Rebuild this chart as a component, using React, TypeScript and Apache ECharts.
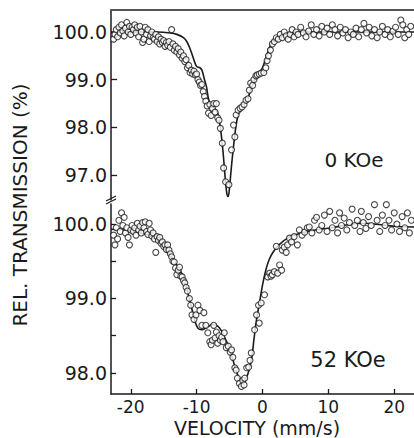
import React, { useEffect, useRef } from "react";
import * as echarts from "echarts";

const FONT = "DejaVu Sans";

// velocity tick labels
const xTicks = [-20, -10, 0, 10, 20];
const upperYLabels = [97, 98, 99, 100];
const lowerYLabels = [98, 99, 100];
const lowerYTicks = [98, 98.5, 99, 99.5, 100];

// 0 kOe: measured points [velocity, transmission]
const upperPoints: number[][] = [
  [-22.6,99.85],[-22.4,99.95],[-22.2,100.05],[-22.0,99.9],[-21.8,100.1],[-21.6,99.98],[-21.4,100.15],[-21.2,100.02],[-21.0,99.92],[-20.8,100.08],[-20.6,100.2],[-20.4,100.0],[-20.2,100.12],[-20.0,99.95],[-19.8,100.1],[-19.6,100.05],[-19.4,100.15],[-19.2,99.98],[-19.0,100.1],[-18.8,99.9],[-18.6,100.12],[-18.4,100.0],[-18.2,99.78],[-18.0,99.85],[-17.8,100.1],[-17.6,99.95],[-17.4,100.05],[-17.2,99.8],[-17.0,99.92],[-16.8,100.0],[-16.6,99.88],[-16.4,99.85],[-16.2,99.95],[-16.0,99.8],[-15.8,99.9],[-15.6,99.75],[-15.4,99.85],[-15.2,99.78],[-15.0,99.82],[-14.8,99.7],[-14.6,99.78],[-14.4,99.72],[-14.2,99.8],[-14.0,99.68],[-13.8,100.05],[-13.6,99.75],[-13.4,99.62],[-13.2,99.7],[-13.0,99.58],[-12.8,99.65],[-12.6,99.52],[-12.4,99.58],[-12.2,99.45],[-12.0,99.5],[-11.8,99.38],[-11.6,99.42],[-11.4,99.25],[-11.2,99.3],[-11.0,99.15],[-10.8,99.2],[-10.6,99.12],[-10.4,99.18],[-10.2,99.1],[-10.0,99.12],[-9.8,99.0],[-9.6,98.95],[-9.4,98.88],[-9.2,98.9],[-9.0,98.75],[-8.8,98.65],[-8.6,98.55],[-8.4,98.45],[-8.2,98.3],[-8.0,98.48],[-7.8,98.25],[-7.6,98.4],[-7.4,98.5],[-7.2,98.32],[-7.0,98.5],[-6.8,98.2],[-6.6,98.15],[-6.4,97.98],[-6.1,97.67],[-5.9,97.15],[-5.6,96.86],[-5.1,96.8],[-4.7,97.53],[-4.4,98.05],[-4.2,97.8],[-4.0,98.26],[-3.7,98.36],[-3.4,98.4],[-3.1,98.43],[-2.8,98.48],[-2.5,98.57],[-2.2,98.6],[-2.0,98.78],[-1.8,98.93],[-1.5,98.88],[-1.3,99.0],[-1.0,99.08],[-0.8,99.1],[-0.5,99.12],[-0.2,99.14],[0.2,99.15],[0.5,99.25],[0.7,99.4],[0.9,99.5],[1.2,99.62],[1.5,99.75],[1.8,99.8],[2.1,99.88],[2.4,99.85],[2.7,99.95],[3.0,99.88],[3.3,100.0],[3.6,99.92],[3.9,99.85],[4.2,99.95],[4.5,100.05],[4.8,99.9],[5.1,100.0],[5.4,99.95],[5.8,100.1],[6.2,99.98],[6.6,99.9],[7.0,100.02],[7.4,100.15],[7.8,99.95],[8.2,100.05],[8.6,99.92],[9.0,100.12],[9.4,100.0],[9.8,100.08],[10.2,99.95],[10.6,100.15],[11.0,100.05],[11.4,99.92],[11.8,100.1],[12.2,99.98],[12.6,100.05],[13.0,99.88],[13.4,100.0],[13.8,99.95],[14.2,100.08],[14.6,99.9],[15.0,100.05],[15.4,100.18],[15.8,99.98],[16.2,100.1],[16.6,99.92],[17.0,100.05],[17.4,99.88],[17.8,100.0],[18.2,100.12],[18.6,99.95],[19.0,100.05],[19.4,99.9],[19.8,100.02],[20.2,100.1],[20.6,99.95],[21.0,100.25],[21.3,100.15],[21.6,99.88],[21.9,100.05],[22.2,99.95],[22.5,100.12]
];

// 0 kOe: fitted curve
const upperFit: number[][] = [
  [-23,100.0],[-20,100.0],[-16,100.0],[-14,99.98],[-13,99.95],[-12,99.88],[-11.5,99.8],[-11,99.65],[-10.5,99.45],[-10,99.28],[-9.5,99.25],[-9.2,99.2],[-8.8,99.0],[-8.5,98.85],[-8.2,98.6],[-7.8,98.45],[-7.3,98.4],[-6.8,98.3],[-6.4,98.0],[-6.0,97.5],[-5.7,97.0],[-5.4,96.6],[-5.2,96.55],[-5.0,96.75],[-4.7,97.2],[-4.4,97.6],[-4.0,98.05],[-3.6,98.3],[-3.0,98.45],[-2.4,98.55],[-2.0,98.7],[-1.5,98.9],[-1.0,99.05],[-0.5,99.15],[0,99.25],[0.5,99.45],[1.0,99.65],[1.5,99.8],[2.5,99.92],[3.5,99.97],[5,100.0],[23,100.0]
];

// 52 kOe: measured points
const lowerPoints: number[][] = [
  [-22.6,99.85],[-22.4,99.72],[-22.2,99.95],[-22.0,99.8],[-21.8,100.05],[-21.6,99.9],[-21.4,100.15],[-21.2,99.98],[-21.0,100.09],[-20.8,99.88],[-20.6,99.95],[-20.4,99.82],[-20.2,99.72],[-20.0,99.92],[-19.8,99.98],[-19.6,99.9],[-19.4,99.95],[-19.2,99.85],[-19.0,100.01],[-18.8,99.92],[-18.6,99.97],[-18.4,99.88],[-18.2,100.02],[-18.0,99.95],[-17.8,100.03],[-17.6,99.9],[-17.4,99.86],[-17.2,100.01],[-17.0,99.92],[-16.8,99.84],[-16.6,99.88],[-16.4,99.8],[-16.2,99.62],[-16.0,99.83],[-15.8,99.78],[-15.6,99.82],[-15.4,99.74],[-15.2,99.76],[-15.0,99.7],[-14.8,99.72],[-14.6,99.66],[-14.4,99.72],[-14.2,99.65],[-14.0,99.6],[-13.8,99.56],[-13.6,99.5],[-13.4,99.49],[-13.2,99.41],[-13.0,99.32],[-12.8,99.38],[-12.6,99.42],[-12.4,99.3],[-12.2,99.29],[-12.0,99.24],[-11.8,99.21],[-11.6,99.15],[-11.4,99.1],[-11.1,99.0],[-10.9,98.91],[-10.7,98.78],[-10.4,98.72],[-10.1,98.78],[-9.8,98.91],[-9.5,98.84],[-9.2,98.64],[-8.9,98.81],[-8.6,98.64],[-8.3,98.54],[-8.0,98.42],[-7.8,98.38],[-7.6,98.44],[-7.4,98.64],[-7.2,98.47],[-7.0,98.55],[-6.8,98.4],[-6.6,98.5],[-6.4,98.44],[-6.2,98.48],[-6.0,98.42],[-5.8,98.54],[-5.5,98.34],[-5.2,98.36],[-4.9,98.28],[-4.7,98.31],[-4.5,98.21],[-4.2,98.07],[-4.0,98.04],[-3.8,97.93],[-3.5,97.86],[-3.2,97.82],[-3.0,97.9],[-2.8,97.84],[-2.7,97.93],[-2.4,98.07],[-2.1,98.08],[-1.9,98.17],[-1.7,98.27],[-1.2,98.58],[-0.9,98.78],[-0.6,98.91],[-0.5,98.67],[-0.2,98.94],[0.3,99.05],[0.8,99.29],[1.1,99.34],[1.3,99.3],[1.5,99.32],[1.8,99.36],[2.1,99.7],[2.3,99.34],[2.6,99.45],[2.9,99.38],[3.0,99.65],[3.3,99.69],[3.6,99.62],[3.8,99.72],[4.1,99.81],[4.4,99.76],[4.8,99.83],[5.3,99.72],[5.6,99.92],[6.0,99.85],[6.4,99.89],[6.8,99.95],[7.1,99.96],[7.5,99.88],[7.9,100.05],[8.2,100.09],[8.6,99.92],[9.0,99.98],[9.4,100.12],[9.8,99.9],[10.2,100.17],[10.6,99.95],[11.0,100.05],[11.4,99.88],[11.7,100.15],[12.0,99.98],[12.4,100.08],[12.8,99.92],[13.2,100.02],[13.6,100.2],[14.0,99.98],[14.4,100.05],[14.8,99.9],[15.0,100.17],[15.3,100.02],[15.7,99.94],[16.1,100.1],[16.5,99.98],[17.0,100.26],[17.4,100.05],[17.8,99.9],[18.2,100.12],[18.6,99.98],[18.8,100.26],[19.2,100.05],[19.6,99.92],[20.0,100.15],[20.4,100.0],[20.8,99.9],[21.2,100.1],[21.6,99.95],[22.0,100.15],[22.3,99.88],[22.6,100.05]
];

// 52 kOe: fitted curve
const lowerFit: number[][] = [
  [-23,99.93],[-21,99.92],[-19,99.89],[-17,99.84],[-16,99.78],[-15,99.68],[-14,99.57],[-13,99.45],[-12.3,99.34],[-11.7,99.2],[-11.2,99.03],[-10.8,98.89],[-10.3,98.71],[-9.8,98.6],[-9.2,98.58],[-8.5,98.61],[-7.6,98.65],[-6.8,98.63],[-6.2,98.56],[-5.6,98.45],[-5,98.33],[-4.5,98.18],[-4,98.03],[-3.5,97.93],[-3.0,97.89],[-2.5,97.93],[-2.0,98.05],[-1.6,98.22],[-1.3,98.45],[-0.9,98.72],[-0.45,98.95],[0,99.18],[0.5,99.38],[1,99.52],[1.6,99.62],[2.5,99.72],[4,99.82],[6,99.88],[8,99.92],[10.5,99.95],[13,99.99],[15.5,100.01],[18,99.99],[20,99.97],[23,99.96]
];

const INK = "#1a1a1a";

export default function App() {
  const ref = useRef<HTMLDivElement>(null);
  useEffect(() => {
    if (!ref.current) return;
    const chart = echarts.init(ref.current, null, { renderer: "svg" });
    const labelStyle = { fontFamily: FONT, fontSize: 18, color: INK };
    const scatterStyle = {
      type: "scatter" as const,
      symbol: "circle",
      symbolSize: 6,
      itemStyle: { color: "#ffffff", borderColor: INK, borderWidth: 1.1 },
      z: 3,
    };
    const lineStyle = {
      type: "line" as const,
      showSymbol: false,
      smooth: 0.35,
      lineStyle: { color: INK, width: 1.6 },
      z: 2,
    };
    chart.setOption({
      animation: false,
      backgroundColor: "#ffffff",
      grid: [
        { left: 111, top: 10, width: 304, height: 190 },
        { left: 111, top: 204, width: 304, height: 190 },
      ],
      xAxis: [
        {
          gridIndex: 0, type: "value", position: "top", min: -23, max: 23,
          axisLine: { show: true, onZero: false, lineStyle: { color: "#555", width: 2 } },
          axisTick: { show: false }, axisLabel: { show: false }, splitLine: { show: false },
        },
        {
          gridIndex: 1, type: "value", position: "bottom", min: -23, max: 23,
          axisLine: { show: true, onZero: false, lineStyle: { color: INK, width: 1.5 } },
          axisTick: { show: true, inside: true, length: 5, customValues: xTicks, lineStyle: { color: INK, width: 1.3 } },
          axisLabel: { ...labelStyle, fontSize: 17, margin: 4, customValues: xTicks },
          splitLine: { show: false },
        },
      ],
      yAxis: [
        {
          gridIndex: 0, type: "value", position: "left", min: 96.478, max: 100.461,
          axisLine: { show: true, onZero: false, lineStyle: { color: INK, width: 1.5 } },
          axisTick: { show: true, inside: true, length: 6, customValues: upperYLabels, lineStyle: { color: INK, width: 1.3 } },
          axisLabel: { ...labelStyle, fontSize: 19, margin: 4, customValues: upperYLabels, formatter: (v: number) => v.toFixed(1) },
          splitLine: { show: false },
        },
        {
          gridIndex: 1, type: "value", position: "left", min: 97.718, max: 100.2685,
          axisLine: { show: true, onZero: false, lineStyle: { color: INK, width: 1.5 } },
          axisTick: { show: true, inside: true, length: 5, customValues: lowerYTicks, lineStyle: { color: INK, width: 1.3 } },
          axisLabel: { ...labelStyle, fontSize: 19, margin: 4, customValues: lowerYLabels, formatter: (v: number) => v.toFixed(1) },
          splitLine: { show: false },
        },
      ],
      series: [
        { ...lineStyle, xAxisIndex: 0, yAxisIndex: 0, data: upperFit },
        { ...scatterStyle, xAxisIndex: 0, yAxisIndex: 0, data: upperPoints },
        { ...lineStyle, xAxisIndex: 1, yAxisIndex: 1, data: lowerFit },
        { ...scatterStyle, xAxisIndex: 1, yAxisIndex: 1, data: lowerPoints },
      ],
      graphic: [
        { type: "line", shape: { x1: 106, y1: 201, x2: 116, y2: 196 }, style: { stroke: INK, lineWidth: 1.2 } },
        { type: "line", shape: { x1: 106, y1: 204, x2: 116, y2: 199 }, style: { stroke: INK, lineWidth: 1.2 } },
        {
          type: "text", x: 20, y: 205, rotation: Math.PI / 2,
          style: { text: "REL. TRANSMISSION (%)", font: `20px "${FONT}"`, fill: INK, align: "center", verticalAlign: "middle", textAlign: "center", textVerticalAlign: "middle" },
        },
        {
          type: "text", x: 257, y: 428,
          style: { text: "VELOCITY (mm/s)", font: `19px "${FONT}"`, fill: INK, align: "center", verticalAlign: "middle", textAlign: "center", textVerticalAlign: "middle" },
        },
        {
          type: "text", x: 354, y: 160,
          style: { text: "0 KOe", font: `20px "${FONT}"`, fill: INK, align: "center", verticalAlign: "middle", textAlign: "center", textVerticalAlign: "middle" },
        },
        {
          type: "text", x: 348, y: 360,
          style: { text: "52 KOe", font: `21px "${FONT}"`, fill: INK, align: "center", verticalAlign: "middle", textAlign: "center", textVerticalAlign: "middle" },
        },
      ],
    });
    return () => chart.dispose();
  }, []);
  return (
    <div
      ref={ref}
      style={{ position: "fixed", left: 0, top: 0, width: 414, height: 438, background: "#fff" }}
    />
  );
}
